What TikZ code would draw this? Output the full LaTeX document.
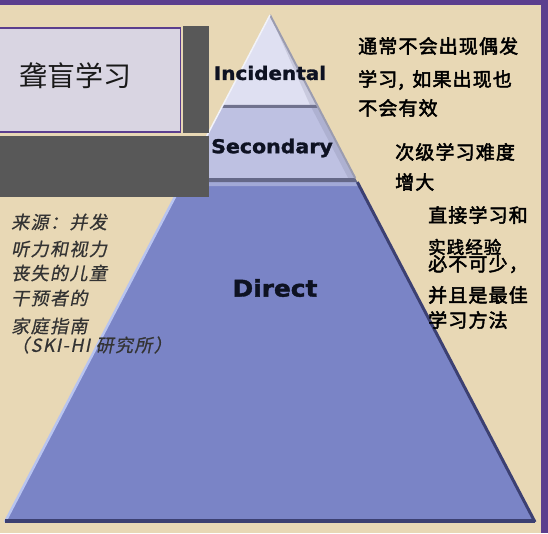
\documentclass[tikz,border=0pt]{standalone}
\usepackage{fontspec}
\usepackage{xcolor}
\definecolor{parchment-beige}{HTML}{E8D8B5}
\definecolor{frame-purple}{HTML}{5B3E8E}
\definecolor{box-lilac}{HTML}{D9D5E2}
\definecolor{box-grey}{HTML}{585858}
\definecolor{layer-top}{HTML}{DFE0F2}
\definecolor{layer-mid}{HTML}{BEC1E2}
\definecolor{layer-base}{HTML}{7A84C6}
\definecolor{edge-dark}{HTML}{3C4072}
\definecolor{edge-grey}{HTML}{70728E}
\definecolor{edge-light}{HTML}{B8C4F0}
\definecolor{label-navy}{HTML}{0E1222}
\definecolor{note-grey}{HTML}{333333}
\newfontfamily\layerfont{DejaVu Sans}[FakeStretch=1.08, FakeBold=1.6]
\newfontfamily\titlefont{Noto Sans CJK SC}
\newfontfamily\notefont{Noto Sans CJK SC}[FakeBold=2.5, LetterSpace=6]
\newfontfamily\sourcefont{Noto Sans CJK SC}[FakeSlant=0.2, FakeBold=0.6, LetterSpace=8]
\usepackage{tikz}
\usetikzlibrary{calc}

\tikzset{
  layer label/.style={text=label-navy, inner sep=0pt, font=\layerfont\bfseries\fontsize{#1}{#1}\selectfont},
  side note/.style={anchor=west, inner sep=0pt, text=black, font=\notefont\fontsize{#1}{#1}\selectfont},
  side note/.default=19pt,
  source note/.style={anchor=west, inner sep=0pt, text=note-grey, font=\sourcefont\fontsize{18pt}{18pt}\selectfont}
}

\begin{document}
\begin{tikzpicture}[x=1pt, y=-1pt]

    \useasboundingbox (0,0) rectangle (548,533);
    \fill[parchment-beige] (0,0) rectangle (548,533);

    % Frame
    \fill[frame-purple] (0,0) rectangle (548,4.5);
    \fill[frame-purple] (541,0) rectangle (548,533);

    % Pyramid corners
    \coordinate (apex) at (270,15);
    \coordinate (bl) at (5,522);
    \coordinate (br) at (535,522);
    \coordinate (top-l) at ($(apex)!0.1775!(bl)$);
    \coordinate (top-r) at ($(apex)!0.1775!(br)$);
    \coordinate (mid-tl) at ($(apex)!0.1834!(bl)$);
    \coordinate (mid-tr) at ($(apex)!0.1834!(br)$);
    \coordinate (mid-bl) at ($(apex)!0.3215!(bl)$);
    \coordinate (mid-br) at ($(apex)!0.3215!(br)$);
    \coordinate (base-tl) at ($(apex)!0.3294!(bl)$);
    \coordinate (base-tr) at ($(apex)!0.3294!(br)$);

    % Direct
    \fill[layer-base] (base-tl) -- (base-tr) -- (br) -- (bl) -- cycle;
    \fill[layer-base!70!white] (base-tl) -- (base-tr) -- ($(base-tr)+(2,4)$) -- ($(base-tl)+(-2,4)$) -- cycle;

    % Secondary
    \fill[layer-mid] (mid-tl) -- (mid-tr) -- (mid-br) -- (mid-bl) -- cycle;
    \fill[layer-mid!80!edge-grey] (mid-tr) -- (mid-br) -- ($(mid-br)+(-7,0)$) -- ($(mid-tr)+(-7,0)$) -- cycle;

    % Incidental
    \fill[layer-top] (apex) -- (top-r) -- (top-l) -- cycle;
    \fill[layer-top!80!edge-grey] (apex) -- (top-r) -- ($(top-r)+(-7,0)$) -- cycle;

    % Steps between layers
    \fill[edge-grey] (top-l) -- (top-r) -- (mid-tr) -- (mid-tl) -- cycle;
    \fill[edge-grey!80!edge-dark] (mid-bl) -- (mid-br) -- (base-tr) -- (base-tl) -- cycle;

    % Edges
    \draw[edge-grey!70!white, line width=2pt] (apex) -- (mid-br);
    \draw[white!60!layer-top, line width=1.5pt] (apex) -- (mid-bl);
    \draw[edge-dark, line width=3pt] (base-tr) -- (br);
    \draw[edge-light, line width=2.5pt] (base-tl) -- (bl);
    \draw[edge-dark, line width=4pt] ($(bl)+(0,-1)$) -- ($(br)+(0,-1)$);

    % Layer names
    \node[layer label=18.5pt] (incidental) at (270,73) {Incidental};
    \node[layer label=19pt] (secondary) at (272,148) {Secondary};
    \node[layer label=23pt] (direct) at (275,288) {Direct};

    % Title boxes
    \fill[box-grey] (183,26) rectangle (209,133);
    \fill[box-grey] (0,136) rectangle (209,197);
    \filldraw[fill=box-lilac, draw=frame-purple, line width=1.8pt] (-2,28) rectangle (180.5,132);
    \node[inner sep=0pt, text=black!90, font=\titlefont\fontsize{28pt}{28pt}\selectfont] (title) at (75,76) {聋盲学习};

    % Notes on the right
    \node[side note] (incidental-a) at (358,46) {通常不会出现偶发};
    \node[side note] (incidental-b) at (358,80) {学习,\, 如果出现也};
    \node[side note] (incidental-c) at (358,108) {不会有效};
    \node[side note] (secondary-a) at (395,152) {次级学习难度};
    \node[side note] (secondary-b) at (395,182) {增大};
    \node[side note] (direct-a) at (428,215) {直接学习和};
    \node[side note=17.5pt] (direct-b) at (428,247) {实践经验};
    \node[side note] (direct-c) at (428,264) {必不可少，};
    \node[side note] (direct-d) at (428,295) {并且是最佳};
    \node[side note] (direct-e) at (428,320) {学习方法};

    % Source
    \node[source note] (source-a) at (11,222) {来源：并发};
    \node[source note] (source-b) at (11,249) {听力和视力};
    \node[source note] (source-c) at (11,273) {丧失的儿童};
    \node[source note] (source-d) at (11,298) {干预者的};
    \node[source note] (source-e) at (11,326) {家庭指南};
    \node[source note] (source-f) at (11,345) {（SKI-HI 研究所）};

\end{tikzpicture}
\end{document}
